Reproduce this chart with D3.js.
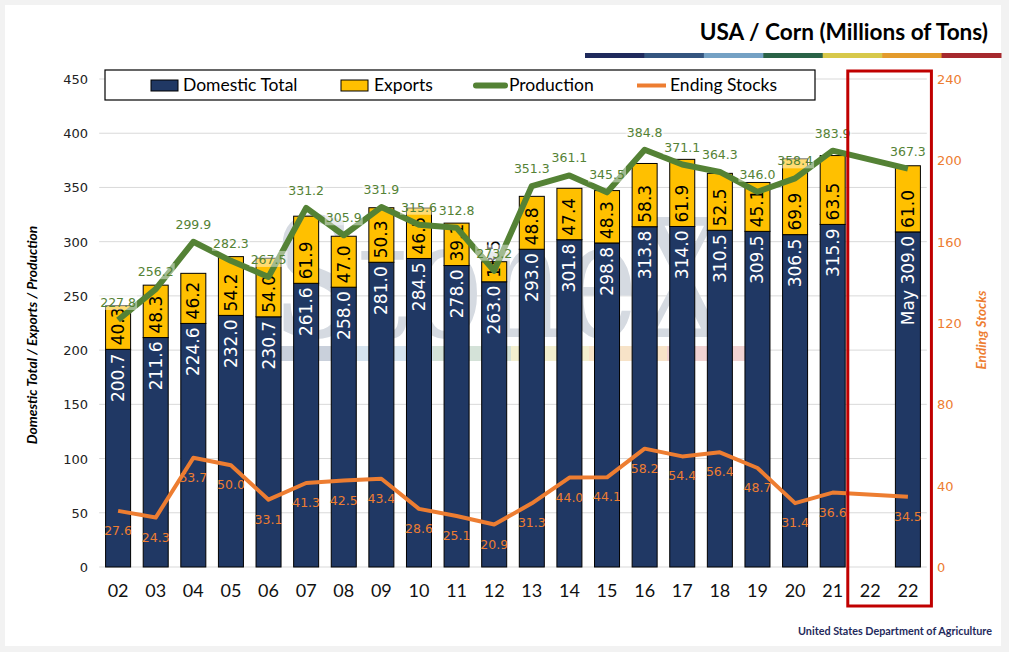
<!DOCTYPE html>
<html>
<head>
<meta charset="utf-8">
<script src="https://cdn.jsdelivr.net/npm/d3@7"></script>
<style>
  html, body { margin: 0; padding: 0; background: #f2f2f2; }
  svg { display: block; }
</style>
</head>
<body>
<svg id="chart" width="1009" height="652"></svg>
<script>
// ---------- DATA ----------
const categories = ["02","03","04","05","06","07","08","09","10","11","12","13","14","15","16","17","18","19","20","21","22","22"];
const domesticTotal = [200.7,211.6,224.6,232.0,230.7,261.6,258.0,281.0,284.5,278.0,263.0,293.0,301.8,298.8,313.8,314.0,310.5,309.5,306.5,315.9,null,309.0];
const exportsVals   = [40.3,48.3,46.2,54.2,54.0,61.9,47.0,50.3,46.5,39.1,18.5,48.8,47.4,48.3,58.3,61.9,52.5,45.1,69.9,63.5,null,61.0];
const production    = [227.8,256.2,299.9,282.3,267.5,331.2,305.9,331.9,315.6,312.8,273.2,351.3,361.1,345.5,384.8,371.1,364.3,346.0,358.4,383.9,null,367.3];
const endingStocks  = [27.6,24.3,53.7,50.0,33.1,41.3,42.5,43.4,28.6,25.1,20.9,31.3,44.0,44.1,58.2,54.4,56.4,48.7,31.4,36.6,null,34.5];
const domesticPrefix = ["","","","","","","","","","","","","","","","","","","","","","May "];
const leftTicks  = [0,50,100,150,200,250,300,350,400,450];
const rightTicks = [0,40,80,120,160,200,240];
const titleText = "USA / Corn (Millions of Tons)";
const leftTitle = "Domestic Total / Exports / Production";
const rightTitle = "Ending Stocks";
const sourceText = "United States Department of Agriculture";
const legendItems = ["Domestic Total","Exports","Production","Ending Stocks"];
const stripeColors = ["#1f2a5c","#34557f","#74a1c4","#2a6347","#d7c84a","#e39b2c","#a6292e"];
const wmColors = ["#c9d0db","#d6e4ef","#d4e2d8","#f3efcf","#f7e3c8","#f1d3d3"];

// ---------- LAYOUT ----------
const svg = d3.select("#chart");
const C = { navy:"#203864", gold:"#ffc000", green:"#548235", orange:"#ed7d31", grid:"#d9d9d9" };
const plot = { left: 99.2, right: 926.8, top: 79, bottom: 567 };

svg.append("rect").attr("x",5).attr("y",5).attr("width",996).attr("height",641).attr("fill","#fff");

const idx = categories.map((c,i)=>i);
const x = d3.scaleBand().domain(idx).range([plot.left, plot.right]).paddingInner(0.335).paddingOuter(0.17);
const y = d3.scaleLinear().domain([0,450]).range([plot.bottom, plot.top]);
const y2 = d3.scaleLinear().domain([0,240]).range([plot.bottom, plot.top]);
const cx = i => x(i) + x.bandwidth()/2;

// Title
svg.append("text").attr("x",988).attr("y",40).attr("text-anchor","end")
  .attr("font-family","Lato, 'Open Sans', sans-serif").attr("font-weight","bold").attr("font-size",22.6)
  .attr("fill","#000").text(titleText);

// Colour stripe under title
const stripeX = d3.scaleBand().domain(d3.range(stripeColors.length)).range([585,1001]);
svg.selectAll(".stripe").data(stripeColors).join("rect")
  .attr("x",(d,i)=>stripeX(i)).attr("y",53).attr("width",stripeX.bandwidth()+0.5).attr("height",5).attr("fill",d=>d);

// Gridlines
svg.append("g").selectAll("line").data(leftTicks).join("line")
  .attr("x1",plot.left).attr("x2",plot.right).attr("y1",d=>y(d)).attr("y2",d=>y(d))
  .attr("stroke",C.grid).attr("stroke-width",1);

// Watermark
const wm = svg.append("g");
wm.append("text").attr("x",272).attr("y",337).attr("font-family","'DejaVu Serif', 'Liberation Serif', serif")
  .attr("font-size",165).attr("fill","#d5dae1").attr("textLength",455).attr("lengthAdjust","spacingAndGlyphs").text("StoneX");
const wmX = d3.scaleBand().domain(d3.range(wmColors.length)).range([277,745]);
wm.selectAll("rect").data(wmColors).join("rect")
  .attr("x",(d,i)=>wmX(i)).attr("y",346).attr("width",wmX.bandwidth()).attr("height",15).attr("fill",d=>d);

// Left axis
const fAxis = "'DejaVu Sans', Verdana, sans-serif";
svg.append("g").selectAll("text").data(leftTicks).join("text")
  .attr("x",88).attr("y",d=>y(d)+5).attr("text-anchor","end")
  .attr("font-family",fAxis).attr("font-size",13).attr("fill","#222").text(d=>d);
// Right axis
svg.append("g").selectAll("text").data(rightTicks).join("text")
  .attr("x",937).attr("y",d=>y2(d)+5).attr("text-anchor","start")
  .attr("font-family",fAxis).attr("font-size",13).attr("fill",C.orange).text(d=>d);
// X labels
svg.append("g").selectAll("text").data(idx).join("text")
  .attr("x",d=>cx(d)).attr("y",597).attr("text-anchor","middle")
  .attr("font-family","Lato, 'Open Sans', sans-serif").attr("font-size",18).attr("fill","#111").text(d=>categories[d]);

// Axis titles
svg.append("text").attr("transform","translate(37,335) rotate(-90)").attr("text-anchor","middle")
  .attr("font-family","Lato, sans-serif").attr("font-style","italic").attr("font-weight","bold").attr("font-size",13.8)
  .attr("fill","#000").text(leftTitle);
svg.append("text").attr("transform","translate(986,330) rotate(-90)").attr("text-anchor","middle")
  .attr("font-family","Lato, sans-serif").attr("font-style","italic").attr("font-weight","bold").attr("font-size",13.5)
  .attr("fill",C.orange).text(rightTitle);

// Bars
const valid = idx.filter(i => domesticTotal[i] != null);
const bars = svg.append("g");
bars.selectAll(".dom").data(valid).join("rect")
  .attr("x",i=>x(i)).attr("width",x.bandwidth())
  .attr("y",i=>y(domesticTotal[i])).attr("height",i=>y(0)-y(domesticTotal[i]))
  .attr("fill",C.navy).attr("stroke","#000").attr("stroke-width",1);
bars.selectAll(".exp").data(valid).join("rect")
  .attr("x",i=>x(i)).attr("width",x.bandwidth())
  .attr("y",i=>y(domesticTotal[i]+exportsVals[i])).attr("height",i=>y(domesticTotal[i])-y(domesticTotal[i]+exportsVals[i]))
  .attr("fill",C.gold).attr("stroke","#000").attr("stroke-width",1);

// Bar labels
const fLab = "'DejaVu Sans', Verdana, sans-serif";
bars.selectAll(".domlab").data(valid).join("text")
  .attr("transform",i=>`translate(${cx(i)+6},${y(domesticTotal[i])+4}) rotate(-90)`)
  .attr("text-anchor","end").attr("font-family",fLab).attr("font-size",17).attr("fill","#fff")
  .text(i=>domesticPrefix[i] + domesticTotal[i].toFixed(1));
bars.selectAll(".explab").data(valid).join("text")
  .attr("transform",i=>`translate(${cx(i)+6},${y(domesticTotal[i])-4}) rotate(-90)`)
  .attr("text-anchor","start").attr("font-family",fLab).attr("font-size",17).attr("fill","#000")
  .text(i=>exportsVals[i].toFixed(1));

// Lines
const prodPts = idx.filter(i=>production[i]!=null);
const stockPts = idx.filter(i=>endingStocks[i]!=null);
svg.append("path").datum(stockPts)
  .attr("d",d3.line().x(i=>cx(i)).y(i=>y2(endingStocks[i])))
  .attr("fill","none").attr("stroke",C.orange).attr("stroke-width",4).attr("stroke-linejoin","round");
svg.append("path").datum(prodPts)
  .attr("d",d3.line().x(i=>cx(i)).y(i=>y(production[i])))
  .attr("fill","none").attr("stroke",C.green).attr("stroke-width",6).attr("stroke-linejoin","round");

// Production labels with translucent boxes
const pl = svg.append("g");
const plG = pl.selectAll("g").data(prodPts).join("g")
  .attr("transform",i=>`translate(${cx(i)},${y(production[i])-18})`);
plG.append("rect").attr("x",-19).attr("y",-8).attr("width",38).attr("height",16).attr("fill","#fff").attr("opacity",0.45);
plG.append("text").attr("y",5).attr("text-anchor","middle").attr("font-family",fLab).attr("font-size",12.5)
  .attr("fill",C.green).text(i=>production[i].toFixed(1));

// Ending stock labels
svg.append("g").selectAll("text").data(stockPts).join("text")
  .attr("x",i=>cx(i)).attr("y",i=>y2(endingStocks[i])+24).attr("text-anchor","middle")
  .attr("font-family",fLab).attr("font-size",12.5).attr("fill",C.orange)
  .text(i=>endingStocks[i].toFixed(1));

// Legend
const lg = svg.append("g");
lg.append("rect").attr("x",105).attr("y",70).attr("width",710).attr("height",30).attr("fill","#fff").attr("stroke","#000").attr("stroke-width",1.2);
const fLeg = "Lato, 'Open Sans', sans-serif";
lg.append("rect").attr("x",151).attr("y",80).attr("width",27).attr("height",11).attr("fill",C.navy).attr("stroke","#000");
lg.append("rect").attr("x",341).attr("y",80).attr("width",27).attr("height",11).attr("fill",C.gold).attr("stroke","#000");
lg.append("line").attr("x1",476).attr("x2",505).attr("y1",85.5).attr("y2",85.5).attr("stroke",C.green).attr("stroke-width",6).attr("stroke-linecap","round");
lg.append("line").attr("x1",637).attr("x2",666).attr("y1",85.5).attr("y2",85.5).attr("stroke",C.orange).attr("stroke-width",4);
const legX = [183,374,509,670];
lg.selectAll("text").data(legendItems).join("text")
  .attr("x",(d,i)=>legX[i]).attr("y",91).attr("font-family",fLeg).attr("font-size",17.5).attr("fill","#000").text(d=>d);

// Red highlight box
svg.append("rect").attr("x",x(20)-10).attr("y",71).attr("width",(x(21)+x.bandwidth()+11)-(x(20)-10)).attr("height",535)
  .attr("fill","none").attr("stroke","#c00000").attr("stroke-width",3);

// Source
svg.append("text").attr("x",992).attr("y",635).attr("text-anchor","end")
  .attr("font-family","Lato, sans-serif").attr("font-weight","bold").attr("font-size",10.5)
  .attr("fill","#1f2a5c").attr("textLength",194).attr("lengthAdjust","spacingAndGlyphs").text(sourceText);
</script>
</body>
</html>
